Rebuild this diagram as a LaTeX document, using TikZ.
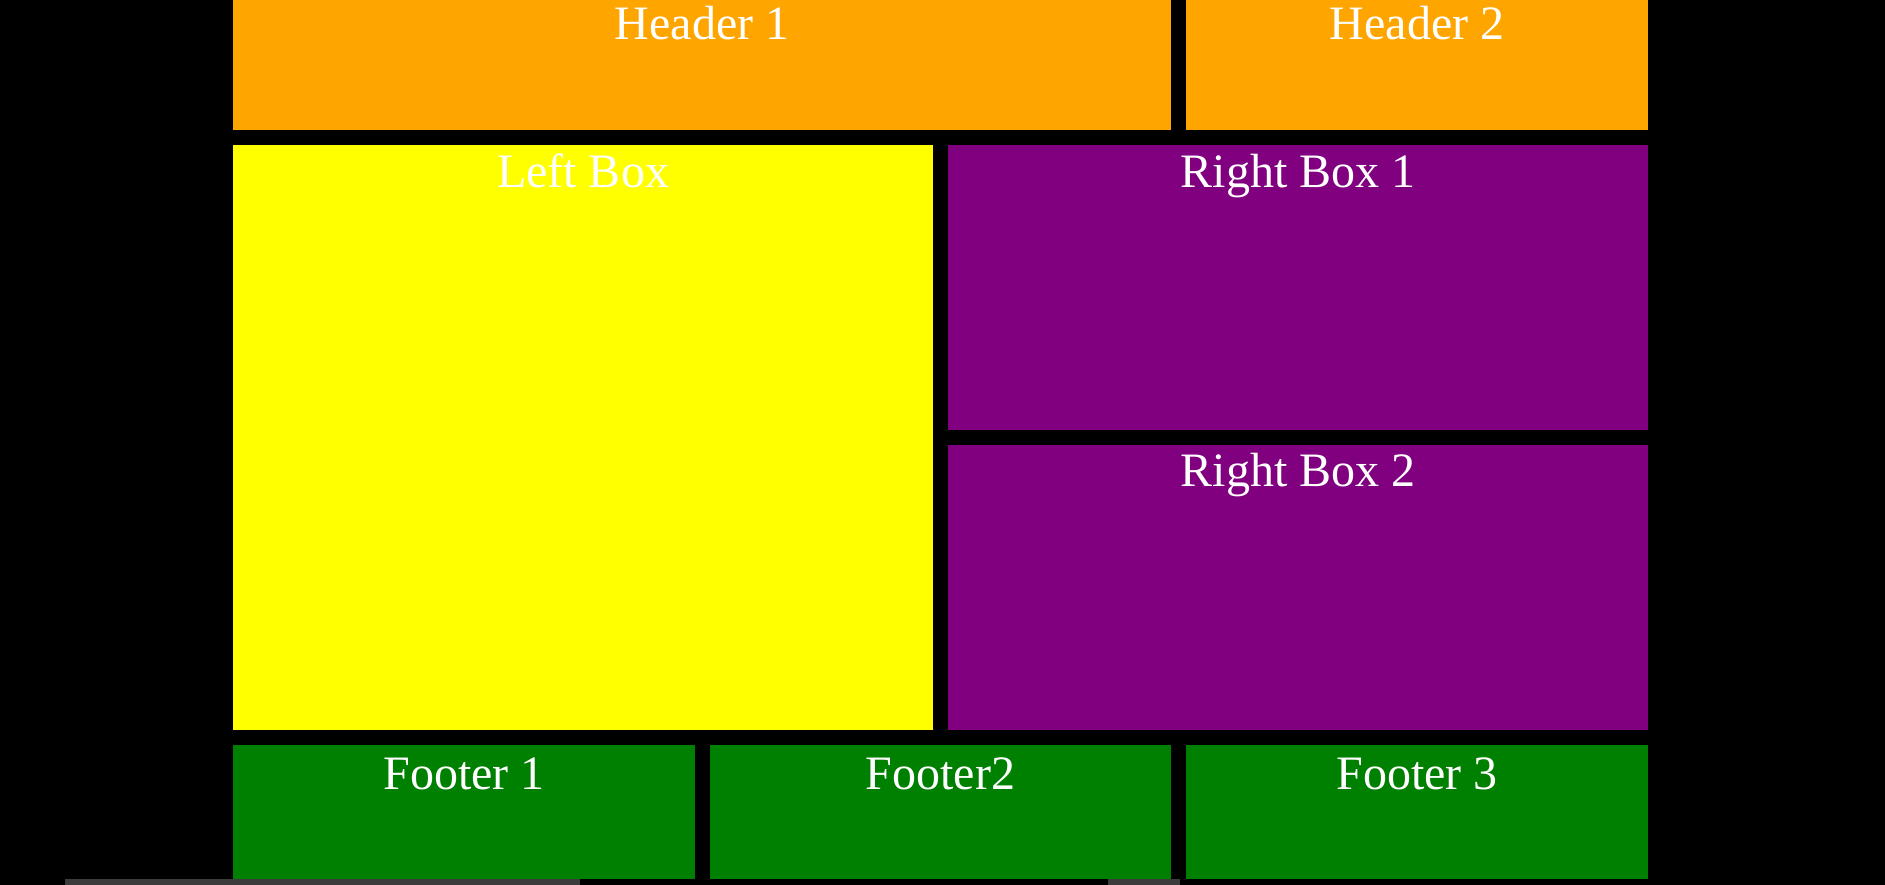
\documentclass[tikz,border=0pt]{standalone}
\usepackage{fontspec}
\setmainfont{Liberation Serif}
\definecolor{cOrange}{HTML}{FFA500}
\definecolor{cYellow}{HTML}{FFFF00}
\definecolor{cPurple}{HTML}{800080}
\definecolor{cGreen}{HTML}{008000}
\definecolor{cBar}{HTML}{3C3C3C}
\begin{document}
\begin{tikzpicture}[x=1pt,y=-1pt,
  box/.style={draw=none, inner sep=0pt, outer sep=0pt, anchor=north west},
  lbl/.style={text=white, inner sep=0pt, anchor=base, font=\fontsize{48}{57}\selectfont}]
\fill[black] (0,0) rectangle (1885,885);
\useasboundingbox (0,0) rectangle (1885,885);
% boxes
\node[box, fill=cOrange, minimum width=938pt, minimum height=130pt] (h1) at (233,0) {};
\node[box, fill=cOrange, minimum width=462pt, minimum height=130pt] (h2) at (1186,0) {};
\node[box, fill=cYellow, minimum width=700pt, minimum height=585pt] (lb) at (233,145) {};
\node[box, fill=cPurple, minimum width=700pt, minimum height=285pt] (rb1) at (948,145) {};
\node[box, fill=cPurple, minimum width=700pt, minimum height=285pt] (rb2) at (948,445) {};
\node[box, fill=cGreen, minimum width=462pt, minimum height=134pt] (f1) at (233,745) {};
\node[box, fill=cGreen, minimum width=461pt, minimum height=134pt] (f2) at (710,745) {};
\node[box, fill=cGreen, minimum width=462pt, minimum height=134pt] (f3) at (1186,745) {};
% scroll bars
\node[box, fill=cBar, minimum width=515pt, minimum height=6pt] (sb1) at (65,879) {};
\node[box, fill=cBar, minimum width=72pt, minimum height=6pt] (sb2) at (1108,879) {};
% labels
\node[lbl, yshift=-40pt] (th1) at (h1.north) {Header 1};
\node[lbl, yshift=-40pt] (th2) at (h2.north) {Header 2};
\node[lbl, yshift=-43pt] (tlb) at (lb.north) {Left Box};
\node[lbl, yshift=-43pt] (trb1) at (rb1.north) {Right Box 1};
\node[lbl, yshift=-41pt] (trb2) at (rb2.north) {Right Box 2};
\node[lbl, yshift=-44pt] (tf1) at (f1.north) {Footer 1};
\node[lbl, yshift=-44pt] (tf2) at (f2.north) {Footer2};
\node[lbl, yshift=-44pt] (tf3) at (f3.north) {Footer 3};
\end{tikzpicture}
\end{document}
